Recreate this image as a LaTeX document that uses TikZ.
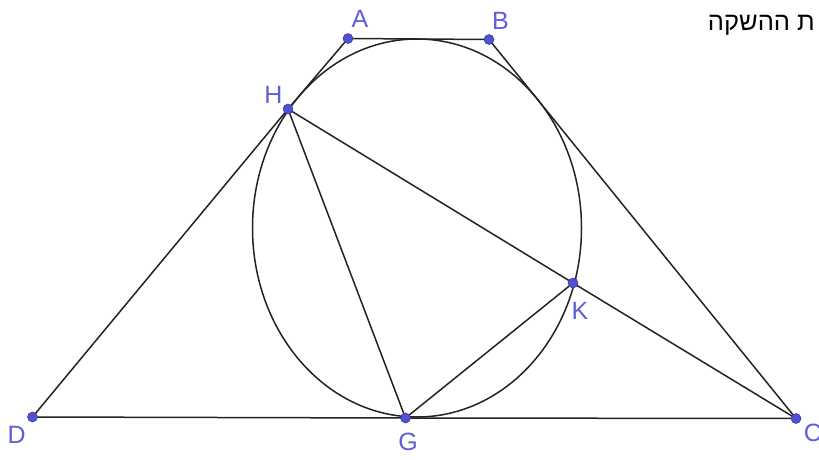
\documentclass[tikz,border=0pt]{standalone}
\usepackage{fontspec}
\setmainfont{Liberation Sans}
\newfontfamily\hebfont[Script=Hebrew]{Liberation Sans}
\TeXXeTstate=1
\definecolor{ptblue}{RGB}{80,80,210}
\definecolor{ptedge}{RGB}{55,55,150}
\definecolor{lblblue}{RGB}{95,95,215}
\definecolor{linegray}{RGB}{35,35,35}
\begin{document}
\begin{tikzpicture}[x=1pt,y=-1pt,
  seg/.style={draw=linegray,line width=1.5pt,line join=round},
  dot/.style={circle,fill=ptblue,draw=ptedge,line width=0.5pt,inner sep=0pt,minimum size=10pt},
  lbl/.style={text=lblblue,font=\fontsize{25}{25}\selectfont,inner sep=0pt}]
\useasboundingbox (0,0) rectangle (819,460);
\fill[white] (0,0) rectangle (819,460);
% positions
\coordinate (A) at (348,38.5);
\coordinate (B) at (489,39.5);
\coordinate (H) at (288,109);
\coordinate (K) at (573,283);
\coordinate (D) at (32.5,417);
\coordinate (G) at (405.5,418);
\coordinate (C) at (796,418.5);
\coordinate (O) at (417,228);
% ellipse
\draw[seg] (O) ellipse [x radius=164.5pt, y radius=189pt];
% segments
\draw[seg] (A) -- (B);
\draw[seg] (A) -- (H) -- (D);
\draw[seg] (B) -- (C);
\draw[seg] (D) -- (G) -- (C);
\draw[seg] (H) -- (G);
\draw[seg] (H) -- (K) -- (C);
\draw[seg] (K) -- (G);
% points
\node[dot] (pA) at (A) {};
\node[dot] (pB) at (B) {};
\node[dot] (pH) at (H) {};
\node[dot] (pK) at (K) {};
\node[dot] (pD) at (D) {};
\node[dot] (pG) at (G) {};
\node[dot] (pC) at (C) {};
% labels
\node[lbl] (lA) at (360,18.5) {A};
\node[lbl] (lB) at (500.5,21) {B};
\node[lbl] (lH) at (273.5,95) {H};
\node[lbl] (lK) at (580,311) {K};
\node[lbl] (lD) at (16.7,434.5) {D};
\node[lbl] (lG) at (408,441.5) {G};
\node[lbl] (lC) at (813,433) {C};
% text
\node[anchor=base east,inner sep=0pt,font=\hebfont\fontsize{25.5}{25.5}\selectfont] (heb) at (815,31) {\beginR ת ההשקה\endR};
\end{tikzpicture}
\end{document}
